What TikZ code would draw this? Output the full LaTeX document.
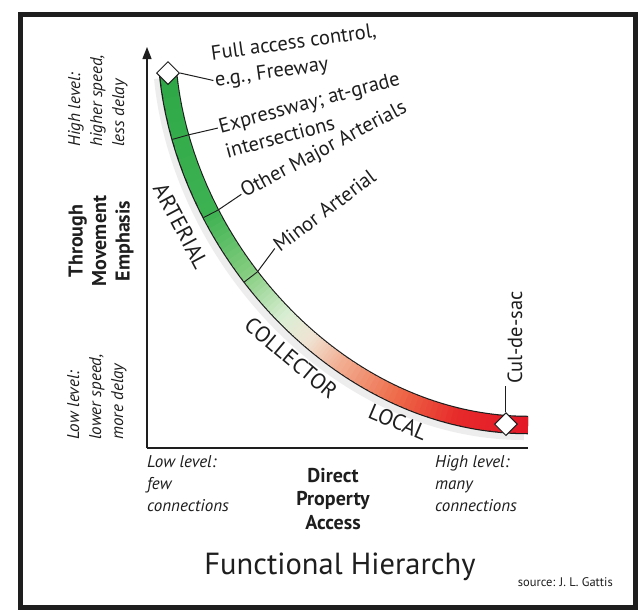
\documentclass[tikz,border=0pt]{standalone}
\usepackage{fontspec}
\setmainfont{PT Sans}
\usetikzlibrary{arrows.meta,shapes.geometric,calc}
\definecolor{g0}{RGB}{45,168,70}
\definecolor{g1}{RGB}{62,178,82}
\definecolor{g2}{RGB}{135,206,130}
\definecolor{g3}{RGB}{218,238,212}
\definecolor{w0}{RGB}{240,228,212}
\definecolor{o1}{RGB}{242,176,148}
\definecolor{o2}{RGB}{238,108,74}
\definecolor{r1}{RGB}{230,42,42}
\definecolor{r2}{RGB}{228,24,40}
\definecolor{ink}{RGB}{30,30,30}
\begin{document}
\begin{tikzpicture}[x=1pt,y=-1pt,
  leader/.style={line width=1pt, ink, shorten >=1.5pt},
  axisline/.style={line width=1.3pt, ink},
  lbl/.style={font=\fontsize{20.5}{26}\selectfont, text=ink, inner sep=0pt, align=left},
  cls/.style={font=\fontsize{22}{24}\selectfont, text=ink, inner sep=0pt},
  itl/.style={font=\fontsize{17}{22}\selectfont\itshape, text=ink, inner sep=0pt, align=left},
  bld/.style={font=\fontsize{20}{23.5}\selectfont\bfseries, text=ink, inner sep=0pt, align=center},
  dia/.style={diamond, draw=ink, line width=1pt, fill=white, minimum width=23pt, minimum height=23pt, inner sep=0pt, aspect=1},
  divn/.style={sloped, inner sep=0pt, outer sep=0pt, minimum height=16.5pt, minimum width=0pt},
]
\useasboundingbox (0,0) rectangle (639,611);
\fill[white] (0,0) rectangle (639,611);
% frame
\draw[line width=5pt, ink] (20,14) rectangle (635,607);

% axes
\coordinate (org) at (147,448);
\coordinate (ytip) at (147,47);
\coordinate (xend) at (528,448);
\draw[axisline, -{Triangle[length=12pt,width=9pt]}] (org) -- (ytip);
\draw[axisline] (org) -- (xend);

% curve control points
\coordinate (P0) at (168,73);
\coordinate (P1) at (186,253);
\coordinate (P2) at (343,425);
\coordinate (P3) at (528,425);

% soft shadow of the band
\draw[line width=20pt, black!7] ([xshift=-4pt,yshift=-5pt]P0) .. controls ([xshift=-4pt,yshift=-5pt]P1) and ([xshift=-4pt,yshift=-5pt]P2) .. ([xshift=-4pt,yshift=-5pt]P3);
% outline of the band
\draw[line width=18.5pt, ink] (P0) .. controls (P1) and (P2) .. (P3);
% gradient fill of the band
\foreach \ta/\tb/\ca/\cb in {0/0.27/g0/g1, 0.27/0.40/g1/g2, 0.40/0.50/g2/g3, 0.50/0.56/g3/w0, 0.56/0.63/w0/o1, 0.63/0.75/o1/o2, 0.75/0.87/o2/r1, 0.87/1/r1/r2}{
  \foreach \k in {0,...,11}{
    \pgfmathsetmacro\s{\ta+(\tb-\ta)*\k/12}
    \pgfmathsetmacro\e{min(1,\ta+(\tb-\ta)*(\k+1.6)/12)}
    \pgfmathsetmacro\p{100*(\k+0.5)/12}
    \path (P0) .. controls (P1) and (P2) .. (P3) coordinate[pos=\s] (sa) coordinate[pos=\e] (sb);
    \draw[line width=16pt, color=\cb!\p!\ca] (sa) -- (sb);
  }
}

% dividers and markers on the band
\path (P0) .. controls (P1) and (P2) .. (P3)
  node[divn, pos=0.12] (d1) {}
  node[divn, pos=0.27] (d2) {}
  node[divn, pos=0.405] (d3) {};
\draw[line width=0.9pt, ink] (d1.north) -- (d1.south);
\draw[line width=0.9pt, ink] (d2.north) -- (d2.south);
\draw[line width=0.9pt, ink] (d3.north) -- (d3.south);
\path (P0) .. controls (P1) and (P2) .. (P3)
  node[dia, pos=0] (fw) {}
  node[dia, pos=0.96] (cds) {};

% labels along the band
\node[lbl, rotate=8, anchor=north west] (lab1) at (210,46) {Full access control,\\e.g., Freeway};
\node[lbl, rotate=15, anchor=north west] (lab2) at (217,119) {Expressway; at-grade\\intersections};
\node[lbl, rotate=28, anchor=base west] (lab3) at (245,198) {Other Major Arterials};
\node[lbl, rotate=37, anchor=base west] (lab4) at (280,253) {Minor Arterial};
\node[lbl, rotate=90, anchor=west] (cul) at (515,384) {Cul-de-sac};

\draw[leader] (fw.east) -- ($(lab1.north west)!0.78!(lab1.south west)$);
\draw[leader] (d1.north) -- ($(lab2.north west)!0.22!(lab2.south west)$);
\draw[leader] (d2.north) -- (lab3.west);
\draw[leader] (d3.north) -- (lab4.west);
\draw[leader] (cds.north) -- (cds.north |- cul.west);

\node[cls, rotate=-62] (art) at (181,226) {ARTERIAL};
\node[cls, rotate=-40] (col) at (291,358) {COLLECTOR};
\node[cls, rotate=-23] (loc) at (398,422) {LOCAL};

% axis labels
\node[itl, rotate=90, anchor=north west] (hi) at (68,147) {High level:\\higher speed,\\less delay};
\node[bld, rotate=90] (tme) at (101,241) {Through\\Movement\\Emphasis};
\node[itl, rotate=90, anchor=north west] (lo) at (67,440) {Low level:\\lower speed,\\more delay};

\node[itl, anchor=north west] (lf) at (147,455) {Low level:\\few\\connections};
\node[bld, anchor=north] (dpa) at (333,468) {Direct\\Property\\Access};
\node[itl, anchor=north west] (hm) at (435,455) {High level:\\many\\connections};

\node[font=\fontsize{30.5}{32}\selectfont, text=ink, inner sep=0pt, anchor=base] (fh) at (340,574) {Functional Hierarchy};
\node[font=\fontsize{12.5}{14}\selectfont, text=ink, inner sep=0pt, anchor=base east] (src) at (613,586) {source: J. L. Gattis};
\end{tikzpicture}
\end{document}
